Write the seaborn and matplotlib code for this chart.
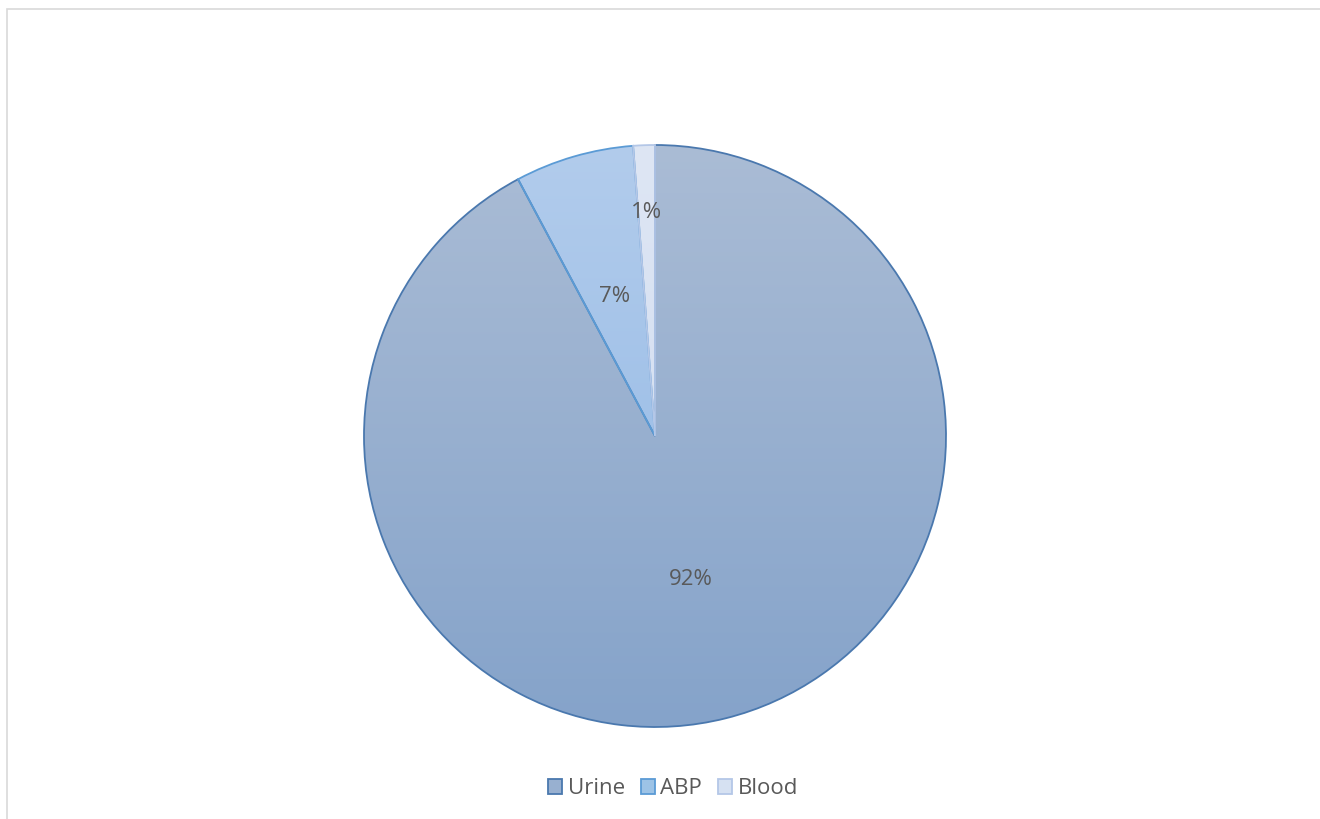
import numpy as np
import matplotlib
matplotlib.use("Agg")
import matplotlib.pyplot as plt
import seaborn as sns
from matplotlib.patches import Rectangle, Patch

sns.set_theme(style="white")
plt.rcParams['font.family'] = ['Open Sans', 'DejaVu Sans']

categories = ["Urine", "ABP", "Blood"]
values = [92.2, 6.6, 1.2]
pct_labels = ["92%", "7%", "1%"]

top_colors = [(170, 188, 213), (178, 204, 236), (222, 230, 244)]
bot_colors = [(133, 163, 202), (143, 182, 228), (205, 218, 239)]
edge_colors = ["#4A78AE", "#5B9BD5", "#B4C7E7"]
solid_colors = ["#98B0D0", "#9DC3E6", "#D6E1F2"]

W, H = 1320, 819
fig = plt.figure(figsize=(W / 100, H / 100), dpi=100)
fig.patch.set_facecolor("white")
ax = fig.add_axes([0, 0, 1, 1])

cx, cy, r = 655, H - 436, 291

wedges, texts, autotexts = ax.pie(
    values, startangle=90, counterclock=False, center=(cx, cy), radius=r,
    autopct=lambda p: "", pctdistance=0.5, frame=True,
    wedgeprops=dict(linewidth=1.3))
ax.set_xlim(0, W)
ax.set_ylim(0, H)
ax.set_aspect("equal")
ax.axis("off")

for i, w in enumerate(wedges):
    w.set_facecolor("none")
    w.set_edgecolor(edge_colors[i])
    w.set_zorder(3)
    t = np.linspace(0, 1, 256)[:, None]
    top = np.array(top_colors[i]) / 255
    bot = np.array(bot_colors[i]) / 255
    grad = top[None, :] * (1 - t) + bot[None, :] * t
    img = np.repeat(grad[:, None, :], 2, axis=1)
    im = ax.imshow(img, extent=(cx - r, cx + r, cy - r, cy + r), origin="upper",
                   aspect="auto", zorder=2, interpolation="bilinear")
    im.set_clip_path(w)

dist = [0.51, 0.5, 0.77]
for i, at in enumerate(autotexts):
    w = wedges[i]
    ang = np.deg2rad((w.theta1 + w.theta2) / 2)
    at.set_position((cx + dist[i] * r * np.cos(ang), cy + dist[i] * r * np.sin(ang)))
    at.set_text(pct_labels[i])
    at.set_color("#595959")
    at.set_fontsize(16)
    at.set_zorder(5)
    at.set_ha("center")
    at.set_va("center")

handles = [Patch(facecolor=solid_colors[i], edgecolor=edge_colors[i], linewidth=1.3,
                 label=categories[i]) for i in range(3)]
leg = fig.legend(handles=handles, loc="center", bbox_to_anchor=(673 / W, 1 - 789 / H),
                 ncol=3, frameon=False, fontsize=16, handlelength=0.65, handleheight=0.65,
                 handletextpad=0.25, columnspacing=0.7)
for tx in leg.get_texts():
    tx.set_color("#595959")

fig.patches.append(Rectangle((7 / W, -0.5), 1.2, 1.5 - 9 / H, transform=fig.transFigure,
                             fill=False, edgecolor="#D9D9D9", linewidth=1.2))

fig.savefig("out.png", dpi=100)
